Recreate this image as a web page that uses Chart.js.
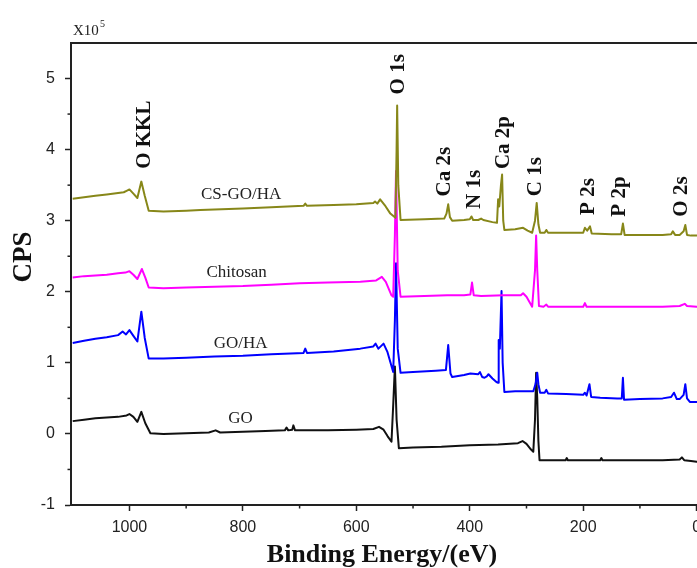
<!DOCTYPE html>
<html>
<head>
<meta charset="utf-8">
<script src="https://cdn.jsdelivr.net/npm/chart.js@4.4.1/dist/chart.umd.min.js"></script>
<style>
  html, body { margin: 0; padding: 0; background: #fff; overflow: hidden; }
  #wrap { width: 712px; height: 568px; }
</style>
</head>
<body>
<div id="wrap"><canvas id="xpsChart" width="712" height="568"></canvas></div>
<script>
// binding energy (eV) and counts (x10^5)
const csgohaEnergy = [1100, 1080, 1060, 1040, 1020, 1010, 1005, 1000, 993, 986, 979, 973, 966, 940, 900, 875, 800, 750, 693, 690, 687, 640, 600, 570, 567, 563, 558, 550, 540, 531, 529, 528, 526, 522, 480, 445, 441, 438, 435, 431, 410, 400, 397, 394, 385, 380, 376, 360, 352, 350, 348, 345, 343, 341, 339, 320, 306, 298, 290, 285, 282, 279, 276, 268, 265, 262, 230, 200, 197, 193, 188, 185, 150, 133, 130, 127, 100, 60, 45, 42, 38, 30, 23, 20, 17, 10, 0, -20];
const csgohaCps = [3.31, 3.33, 3.35, 3.37, 3.39, 3.40, 3.42, 3.44, 3.38, 3.32, 3.55, 3.35, 3.14, 3.13, 3.14, 3.15, 3.17, 3.19, 3.21, 3.24, 3.21, 3.22, 3.23, 3.25, 3.27, 3.24, 3.30, 3.22, 3.10, 3.04, 4.00, 4.62, 3.50, 3.01, 3.02, 3.03, 3.10, 3.23, 3.05, 3.00, 3.01, 3.02, 3.06, 3.01, 3.01, 3.03, 3.01, 2.98, 2.97, 3.30, 3.20, 3.50, 3.65, 3.00, 2.87, 2.88, 2.90, 2.86, 2.83, 3.00, 3.25, 2.95, 2.83, 2.83, 2.87, 2.83, 2.83, 2.83, 2.90, 2.86, 2.92, 2.82, 2.81, 2.81, 2.96, 2.80, 2.80, 2.80, 2.81, 2.85, 2.80, 2.80, 2.85, 2.94, 2.80, 2.79, 2.79, 2.79];

const chitosanEnergy = [1100, 1080, 1060, 1040, 1020, 1007, 1000, 993, 986, 978, 972, 966, 940, 900, 850, 800, 750, 700, 650, 593, 565, 555, 548, 538, 535, 532, 530, 527, 522, 480, 440, 410, 399, 396, 393, 380, 340, 310, 306, 300, 290, 285, 283, 281, 278, 270, 265, 262, 230, 200, 197, 194, 150, 100, 60, 30, 21, 17, 0, -20];
const chitosanCps = [2.20, 2.22, 2.23, 2.24, 2.26, 2.27, 2.29, 2.24, 2.18, 2.32, 2.20, 2.06, 2.05, 2.06, 2.07, 2.08, 2.10, 2.12, 2.13, 2.14, 2.16, 2.21, 2.14, 1.95, 1.93, 2.80, 3.70, 2.30, 1.93, 1.94, 1.95, 1.95, 1.96, 2.13, 1.95, 1.94, 1.95, 1.95, 1.98, 1.93, 1.79, 2.30, 2.79, 2.30, 1.80, 1.79, 1.82, 1.79, 1.79, 1.79, 1.84, 1.79, 1.79, 1.79, 1.79, 1.80, 1.83, 1.80, 1.79, 1.79];

const gohaEnergy = [1100, 1080, 1060, 1040, 1020, 1012, 1006, 1000, 993, 986, 979, 973, 966, 940, 900, 850, 800, 750, 693, 690, 687, 640, 593, 570, 566, 561, 552, 545, 535, 532, 530, 527, 522, 500, 460, 442, 438, 434, 431, 410, 399, 385, 382, 378, 374, 370, 367, 360, 353, 350, 349, 347, 344, 342, 339, 320, 300, 288, 284, 281, 279, 276, 268, 265, 262, 230, 200, 197, 194, 189, 186, 170, 140, 132, 130, 128, 100, 60, 45, 40, 35, 30, 23, 20, 17, 12, 0, -20];
const gohaCps = [1.28, 1.31, 1.34, 1.36, 1.39, 1.44, 1.40, 1.46, 1.38, 1.30, 1.72, 1.35, 1.06, 1.06, 1.07, 1.09, 1.10, 1.12, 1.14, 1.20, 1.14, 1.16, 1.20, 1.23, 1.27, 1.20, 1.27, 1.15, 0.87, 1.60, 2.40, 1.20, 0.86, 0.87, 0.89, 0.90, 1.25, 0.85, 0.80, 0.83, 0.85, 0.84, 0.87, 0.80, 0.79, 0.81, 0.84, 0.78, 0.73, 0.72, 1.32, 1.20, 2.01, 1.00, 0.59, 0.60, 0.60, 0.60, 0.70, 0.86, 0.70, 0.58, 0.58, 0.62, 0.57, 0.56, 0.55, 0.58, 0.54, 0.70, 0.52, 0.51, 0.50, 0.50, 0.79, 0.48, 0.49, 0.50, 0.52, 0.58, 0.49, 0.49, 0.55, 0.70, 0.50, 0.45, 0.45, 0.44];

const goEnergy = [1100, 1080, 1060, 1040, 1020, 1005, 1000, 993, 986, 979, 972, 963, 940, 900, 860, 848, 840, 800, 760, 726, 723, 720, 713, 711, 708, 650, 600, 570, 560, 552, 545, 538, 535, 532, 529, 525, 500, 450, 400, 350, 315, 307, 300, 292, 288, 285, 283, 281, 279, 277, 250, 231, 229, 227, 170, 168, 166, 100, 60, 30, 26, 22, 10, 0, -20];
const goCps = [0.18, 0.20, 0.22, 0.23, 0.24, 0.26, 0.28, 0.24, 0.17, 0.31, 0.15, 0.01, 0.00, 0.01, 0.02, 0.05, 0.02, 0.03, 0.04, 0.05, 0.09, 0.05, 0.06, 0.12, 0.05, 0.05, 0.06, 0.07, 0.10, 0.06, -0.03, -0.11, 0.40, 0.95, 0.20, -0.20, -0.19, -0.18, -0.16, -0.15, -0.13, -0.10, -0.14, -0.22, -0.25, 0.20, 0.86, 0.50, -0.10, -0.37, -0.37, -0.37, -0.34, -0.37, -0.37, -0.34, -0.37, -0.37, -0.37, -0.36, -0.33, -0.37, -0.38, -0.39, -0.39];

const seriesNames = ['CS-GO/HA', 'Chitosan', 'GO/HA', 'GO'];
const seriesColors = ['#878719', '#ff00ff', '#0000ff', '#111111'];

const xTicks = [1000, 800, 600, 400, 200, 0];
const xMinorTicks = [900, 700, 500, 300, 100];
const yTicks = [-1, 0, 1, 2, 3, 4, 5];
const yMinorTicks = [-0.5, 0.5, 1.5, 2.5, 3.5, 4.5];

// peak assignments, anchored in data units (energy, cps)
const peakNames = ['O KKL', 'O 1s', 'Ca 2s', 'N 1s', 'Ca 2p', 'C 1s', 'P 2s', 'P 2p', 'O 2s'];
const peakEnergy = [975, 528, 447, 394, 343, 285, 193, 138, 29];
const peakCps = [4.21, 5.06, 3.69, 3.44, 4.10, 3.62, 3.34, 3.34, 3.34];

const curveLabelEnergy = [803, 811, 804, 804];
const curveLabelCps = [3.37, 2.27, 1.27, 0.21];

function toPoints(xs, ys) {
  return xs.map((x, i) => ({ x: x, y: ys[i] }));
}

const serif = '"Liberation Serif", "Times New Roman", serif';
const sans = '"Liberation Sans", Arial, sans-serif';

const overlayPlugin = {
  id: 'overlay',
  afterDraw(chart) {
    const ctx = chart.ctx;
    const xs = chart.scales.x;
    const ys = chart.scales.y;
    const area = chart.chartArea;
    ctx.save();

    // top frame line
    ctx.strokeStyle = '#222';
    ctx.lineWidth = 2;
    ctx.beginPath();
    ctx.moveTo(area.left, area.top);
    ctx.lineTo(area.right, area.top);
    ctx.stroke();

    // minor ticks
    ctx.lineWidth = 1.5;
    xMinorTicks.forEach(v => {
      const px = xs.getPixelForValue(v);
      ctx.beginPath();
      ctx.moveTo(px, area.bottom);
      ctx.lineTo(px, area.bottom + 3.5);
      ctx.stroke();
    });
    yMinorTicks.forEach(v => {
      const py = ys.getPixelForValue(v);
      ctx.beginPath();
      ctx.moveTo(area.left, py);
      ctx.lineTo(area.left - 3.5, py);
      ctx.stroke();
    });

    ctx.fillStyle = '#111';

    // peak labels, rotated
    ctx.font = 'bold 21px ' + serif;
    ctx.textAlign = 'center';
    ctx.textBaseline = 'middle';
    peakNames.forEach((name, i) => {
      ctx.save();
      ctx.translate(xs.getPixelForValue(peakEnergy[i]), ys.getPixelForValue(peakCps[i]));
      ctx.rotate(-Math.PI / 2);
      ctx.fillText(name, 0, 1);
      ctx.restore();
    });

    // curve names
    ctx.font = '17px ' + serif;
    ctx.fillStyle = '#222';
    seriesNames.forEach((name, i) => {
      ctx.fillText(name, xs.getPixelForValue(curveLabelEnergy[i]), ys.getPixelForValue(curveLabelCps[i]));
    });

    // axis titles
    ctx.fillStyle = '#111';
    ctx.font = 'bold 26px ' + serif;
    ctx.textBaseline = 'alphabetic';
    ctx.fillText('Binding Energy/(eV)', 382, 562);

    ctx.save();
    ctx.translate(24, 257);
    ctx.rotate(-Math.PI / 2);
    ctx.font = 'bold 27px ' + serif;
    ctx.textBaseline = 'middle';
    ctx.fillText('CPS', 0, 0);
    ctx.restore();

    // multiplier
    ctx.textAlign = 'left';
    ctx.font = '15px ' + serif;
    ctx.fillStyle = '#222';
    ctx.fillText('X10', 73, 35);
    ctx.font = '10px ' + serif;
    ctx.fillText('5', 100, 27);

    ctx.restore();
  }
};

const datasets = [
  toPoints(csgohaEnergy, csgohaCps),
  toPoints(chitosanEnergy, chitosanCps),
  toPoints(gohaEnergy, gohaCps),
  toPoints(goEnergy, goCps)
].map((pts, i) => ({
  label: seriesNames[i],
  data: pts,
  borderColor: seriesColors[i],
  borderWidth: 2,
  borderJoinStyle: 'round',
  pointRadius: 0,
  tension: 0,
  fill: false
}));

new Chart(document.getElementById('xpsChart'), {
  type: 'line',
  data: { datasets: datasets },
  options: {
    responsive: false,
    animation: false,
    layout: { padding: { top: 43, right: 4, left: 0, bottom: 0 } },
    plugins: {
      legend: { display: false },
      tooltip: { enabled: false }
    },
    scales: {
      x: {
        type: 'linear',
        reverse: true,
        min: -20,
        max: 1103,
        afterBuildTicks: s => { s.ticks = xTicks.map(v => ({ value: v })); },
        afterFit: s => { s.height = 63; },
        border: { display: true, color: '#222', width: 2 },
        grid: { drawOnChartArea: false, drawTicks: true, tickLength: 6, tickColor: '#222', tickWidth: 1.5 },
        ticks: { color: '#222', font: { family: sans, size: 16 }, padding: 7, maxRotation: 0, callback: v => String(v) }
      },
      y: {
        min: -1,
        max: 5.5,
        afterBuildTicks: s => { s.ticks = yTicks.map(v => ({ value: v })); },
        afterFit: s => { s.width = 71; },
        border: { display: true, color: '#222', width: 2 },
        grid: { drawOnChartArea: false, drawTicks: true, tickLength: 6, tickColor: '#222', tickWidth: 1.5 },
        ticks: { color: '#222', font: { family: sans, size: 16 }, padding: 10, callback: v => String(v) }
      }
    }
  },
  plugins: [overlayPlugin]
});
</script>
</body>
</html>
